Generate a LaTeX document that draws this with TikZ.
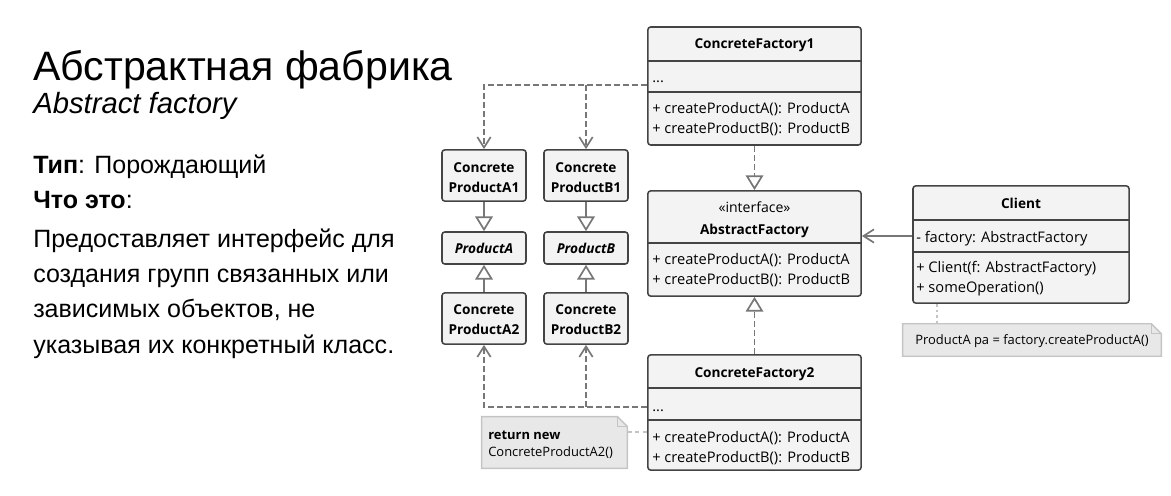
\documentclass[tikz,border=0pt]{standalone}
\usepackage{fontspec}
\setmainfont{Liberation Sans}
\newfontfamily\umlfont{Open Sans}
\usepackage{tikz}
\usetikzlibrary{arrows.meta,backgrounds}
\definecolor{umlline}{HTML}{444444}
\definecolor{umlfill}{HTML}{F3F3F3}
\definecolor{arrowgray}{HTML}{777777}
\definecolor{notefill}{HTML}{E8E8E8}
\definecolor{noteline}{HTML}{C4C4C4}
\tikzset{
  classbox/.style={rectangle,rounded corners=2pt,draw=umlline,fill=umlfill,
    line width=1.1pt,inner sep=0pt},
  separator/.style={draw=umlline,line width=1.1pt},
  classtitle/.style={font=\umlfont\fontsize{9.7}{14.2}\selectfont\bfseries,
    inner sep=0pt,anchor=base},
  member/.style={font=\umlfont\fontsize{10.4}{14.2}\selectfont,align=left,
    inner sep=0pt,anchor=base west},
  notetext/.style={font=\umlfont\fontsize{9.2}{11.5}\selectfont,align=left,
    inner sep=0pt,anchor=base west},
  inheritedge/.style={draw=arrowgray,line width=1.2pt,
    -{Triangle[length=10.5pt,width=12.5pt,fill=white]}},
  realizeedge/.style={inheritedge,dash pattern=on 4.2pt off 2.2pt},
  dependedge/.style={draw=arrowgray,line width=1.2pt,dash pattern=on 4.2pt off 2.2pt,
    -{Straight Barb[length=7.5pt,width=9.5pt]}},
  assocedge/.style={draw=arrowgray,line width=1.2pt,
    -{Straight Barb[length=7.5pt,width=9.5pt]}},
  notelink/.style={draw=noteline,line width=1pt,dash pattern=on 3pt off 2.5pt},
  notebox/.style={draw=noteline,fill=notefill,line width=1pt}
}

\begin{document}
\begin{tikzpicture}[x=0.025cm,y=-0.025cm]
  \useasboundingbox (0,0) rectangle (1171,495);

  % left description
  \node[anchor=base west,inner sep=0pt,font=\fontsize{29.2}{34}\selectfont] (title) at (33,80)
    {Абстрактная фабрика};
  \node[anchor=base west,inner sep=0pt,font=\fontsize{20.8}{24}\selectfont\itshape] (subtitle) at (33,113)
    {Abstract factory};
  \node[anchor=base west,inner sep=0pt,font=\fontsize{17.8}{21}\selectfont] (kind) at (33,173)
    {\textbf{Тип}: Порождающий};
  \node[anchor=base west,inner sep=0pt,font=\fontsize{17.8}{21}\selectfont] (what) at (33,208)
    {\textbf{Что это}:};
  \node[anchor=base west,inner sep=0pt,align=left,font=\fontsize{17.8}{24.9}\selectfont] (descr) at (33,353)
    {Предоставляет интерфейс для\\создания групп связанных или\\зависимых объектов, не\\указывая их конкретный класс.};

  % factories
  \node[classbox,minimum width=5.33cm,minimum height=2.95cm] (cf1) at (754.5,86) {};
  \draw[separator] (cf1.west |- 0,61) -- (cf1.east |- 0,61);
  \draw[separator] (cf1.west |- 0,92) -- (cf1.east |- 0,92);
  \node[classtitle] (cf1name) at (754.5,48) {ConcreteFactory1};
  \node[member] (cf1attr) at (652,82) {...};
  \node[member] (cf1ops) at (652,133) {+ createProductA(): ProductA\\+ createProductB(): ProductB};

  \node[classbox,minimum width=5.33cm,minimum height=2.63cm] (af) at (754.5,243.5) {};
  \draw[separator] (af.west |- 0,243) -- (af.east |- 0,243);
  \node[classtitle,font=\umlfont\fontsize{10}{14}\selectfont] (afstereo) at (754.5,212) {«interface»};
  \node[classtitle] (afname) at (754.5,234) {AbstractFactory};
  \node[member] (afops) at (652,284) {+ createProductA(): ProductA\\+ createProductB(): ProductB};

  \node[classbox,minimum width=5.33cm,minimum height=2.88cm] (cf2) at (754.5,412.5) {};
  \draw[separator] (cf2.west |- 0,388) -- (cf2.east |- 0,388);
  \draw[separator] (cf2.west |- 0,420) -- (cf2.east |- 0,420);
  \node[classtitle] (cf2name) at (754.5,377) {ConcreteFactory2};
  \node[member] (cf2attr) at (652,411) {...};
  \node[member] (cf2ops) at (652,462) {+ createProductA(): ProductA\\+ createProductB(): ProductB};

  % client
  \node[classbox,minimum width=5.4cm,minimum height=2.93cm] (client) at (1021,244.5) {};
  \draw[separator] (client.west |- 0,220) -- (client.east |- 0,220);
  \draw[separator] (client.west |- 0,252) -- (client.east |- 0,252);
  \node[classtitle] (clientname) at (1021,208) {Client};
  \node[member] (clientattr) at (916,242) {- factory: AbstractFactory};
  \node[member] (clientops) at (916,292) {+ Client(f: AbstractFactory)\\+ someOperation()};

  % products
  \node[classbox,minimum width=2.1cm,minimum height=1.28cm] (a1) at (484,175.5) {};
  \node[classtitle,align=center] at (484,192) {Concrete\\ProductA1};
  \node[classbox,minimum width=2.1cm,minimum height=1.28cm] (b1) at (586,175.5) {};
  \node[classtitle,align=center] at (586,192) {Concrete\\ProductB1};
  \node[classbox,minimum width=2.1cm,minimum height=0.8cm] (pa) at (484,248) {};
  \node[classtitle,font=\umlfont\fontsize{9.7}{14}\selectfont\bfseries\itshape] at (484,253) {ProductA};
  \node[classbox,minimum width=2.1cm,minimum height=0.8cm] (pb) at (586,248) {};
  \node[classtitle,font=\umlfont\fontsize{9.7}{14}\selectfont\bfseries\itshape] at (586,253) {ProductB};
  \node[classbox,minimum width=2.1cm,minimum height=1.28cm] (a2) at (484,318.5) {};
  \node[classtitle,align=center] at (484,334) {Concrete\\ProductA2};
  \node[classbox,minimum width=2.1cm,minimum height=1.28cm] (b2) at (586,318.5) {};
  \node[classtitle,align=center] at (586,334) {Concrete\\ProductB2};

  % notes
  \node[inner sep=0pt,minimum width=6.45cm,minimum height=0.8cm] (clientnote) at (1032,340) {};
  \begin{scope}[on background layer]
    \draw[notebox] (clientnote.south west) -- (clientnote.north west)
      -- ([xshift=-0.25cm]clientnote.north east) -- ([yshift=-0.25cm]clientnote.north east)
      -- (clientnote.south east) -- cycle;
    \draw[notebox,fill=none] ([xshift=-0.25cm]clientnote.north east)
      -- ([xshift=-0.25cm,yshift=-0.25cm]clientnote.north east) -- ([yshift=-0.25cm]clientnote.north east);
  \end{scope}
  \node[notetext] at (915,344) {ProductA pa = factory.createProductA()};

  \node[inner sep=0pt,minimum width=3.63cm,minimum height=1.28cm] (cf2note) at (554.5,442.5) {};
  \begin{scope}[on background layer]
    \draw[notebox] (cf2note.south west) -- (cf2note.north west)
      -- ([xshift=-0.25cm]cf2note.north east) -- ([yshift=-0.25cm]cf2note.north east)
      -- (cf2note.south east) -- cycle;
    \draw[notebox,fill=none] ([xshift=-0.25cm]cf2note.north east)
      -- ([xshift=-0.25cm,yshift=-0.25cm]cf2note.north east) -- ([yshift=-0.25cm]cf2note.north east);
  \end{scope}
  \node[notetext] at (488,456) {\textbf{return new}\\ConcreteProductA2()};

  % connectors
  \coordinate (cf1out) at (cf1.west |- 0,85);
  \coordinate (cf2out) at (cf2.west |- 0,407);
  \draw[dependedge] (cf1out) -| (a1.north);
  \draw[dependedge] (b1.north |- cf1out) -- (b1.north);
  \draw[dependedge] (cf2out) -| (a2.south);
  \draw[dependedge] (b2.south |- cf2out) -- (b2.south);
  \draw[realizeedge] (cf1.south) -- (af.north);
  \draw[realizeedge] (cf2.north) -- (af.south);
  \draw[inheritedge] (a1) -- (pa);
  \draw[inheritedge] (b1) -- (pb);
  \draw[inheritedge] (a2) -- (pa);
  \draw[inheritedge] (b2) -- (pb);
  \draw[assocedge] (client.west |- 0,236) -- (af.east |- 0,236);
  \draw[notelink,dash pattern=on 2pt off 2pt] (client.south -| 937,0) -- (clientnote.north -| 937,0);
  \draw[notelink] (cf2note.east |- 0,432) -- (cf2.west |- 0,432);
\end{tikzpicture}
\end{document}
